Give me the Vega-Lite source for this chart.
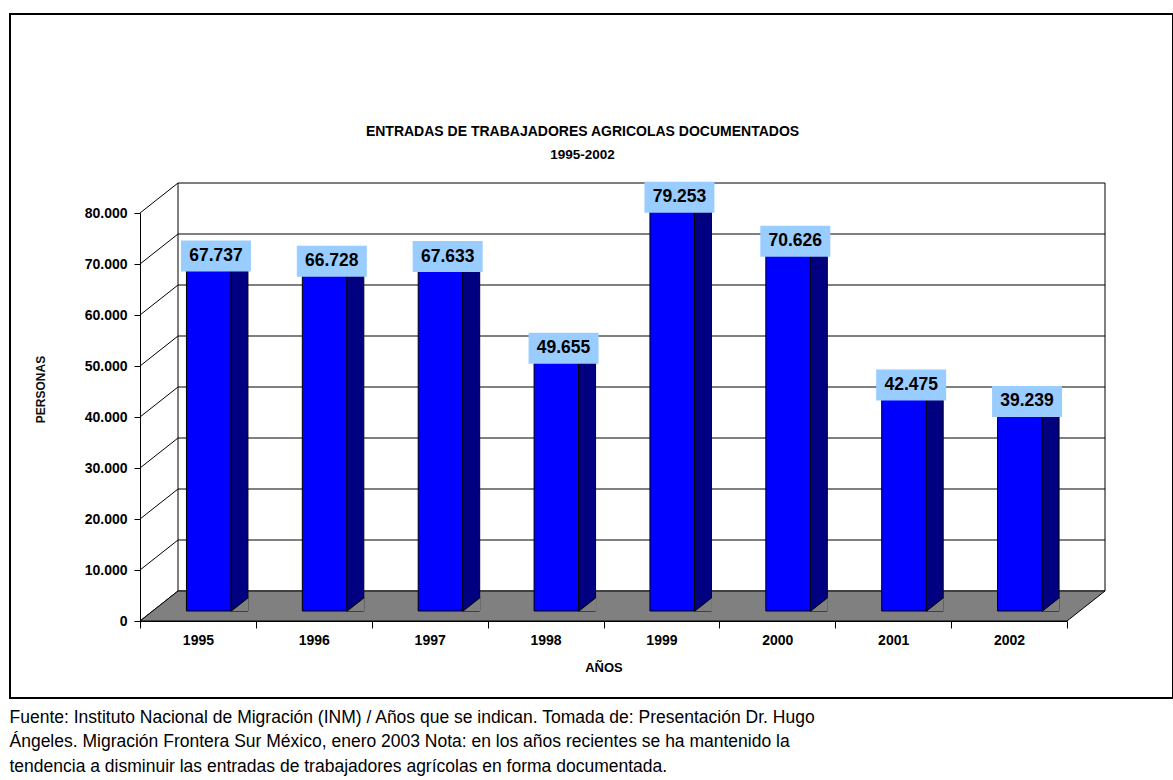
{
  "$schema": "https://vega.github.io/schema/vega-lite/v6.json",
  "width": 1163,
  "height": 684,
  "autosize": {"type": "none"},
  "padding": {"left": 10, "top": 14, "right": 0, "bottom": 82},
  "background": "white",
  "title": {
    "text": "ENTRADAS DE TRABAJADORES AGRICOLAS DOCUMENTADOS",
    "subtitle": "1995-2002",
    "anchor": "middle",
    "frame": "group",
    "dx": -9,
    "dy": 151,
    "font": "Liberation Sans",
    "fontSize": 14,
    "fontWeight": "bold",
    "color": "black",
    "subtitleFont": "Liberation Sans",
    "subtitleFontSize": 13.5,
    "subtitleFontWeight": "bold",
    "subtitleColor": "black",
    "subtitlePadding": 9
  },
  "datasets": {
    "bars": [
      {"year": "1995", "value": 67737},
      {"year": "1996", "value": 66728},
      {"year": "1997", "value": 67633},
      {"year": "1998", "value": 49655},
      {"year": "1999", "value": 79253},
      {"year": "2000", "value": 70626},
      {"year": "2001", "value": 42475},
      {"year": "2002", "value": 39239}
    ],
    "grid": [
      {"v": 0}, {"v": 10000}, {"v": 20000}, {"v": 30000}, {"v": 40000},
      {"v": 50000}, {"v": 60000}, {"v": 70000}, {"v": 80000}
    ],
    "edges": [{"p": 0}, {"p": 8}],
    "one": [{"k": 1}]
  },
  "resolve": {
    "scale": {"x": "independent"},
    "axis": {"x": "independent", "y": "independent"}
  },
  "layer": [
    {
      "data": {"name": "grid"},
      "mark": {"type": "rule", "color": "black", "strokeWidth": 1, "xOffset": 38, "x2Offset": 38, "yOffset": -30},
      "encoding": {
        "x": {"datum": 0, "type": "quantitative", "scale": {"domain": [0, 8], "range": [130, 1057], "nice": false, "zero": false}, "axis": null},
        "x2": {"datum": 8},
        "y": {
          "field": "v", "type": "quantitative",
          "scale": {"domain": [0, 80000], "range": [607, 199], "nice": false},
          "axis": {
            "orient": "left", "offset": -130,
            "values": [0, 10000, 20000, 30000, 40000, 50000, 60000, 70000, 80000],
            "format": ",d",
            "labelFont": "Liberation Sans", "labelFontSize": 14, "labelFontWeight": "bold", "labelColor": "black",
            "labelPadding": 7, "tickSize": 6, "tickColor": "black", "domainColor": "black", "grid": false,
            "title": "PERSONAS", "titleX": -100, "titleY": 375, "titleAngle": -90,
            "titleAlign": "center", "titleBaseline": "middle",
            "titleFont": "Liberation Sans", "titleFontSize": 12, "titleFontWeight": "bold", "titleColor": "#111111"
          }
        }
      }
    },
    {
      "data": {"name": "grid"},
      "mark": {"type": "rule", "color": "black", "strokeWidth": 1, "x2Offset": 38, "y2Offset": -30},
      "encoding": {
        "x": {"datum": 0, "type": "quantitative", "scale": {"domain": [0, 8], "range": [130, 1057], "nice": false, "zero": false}, "axis": null},
        "x2": {"datum": 0},
        "y": {"field": "v", "type": "quantitative", "axis": null},
        "y2": {"field": "v"}
      }
    },
    {
      "data": {"name": "edges"},
      "mark": {"type": "rule", "color": "black", "strokeWidth": 1, "xOffset": 38, "yOffset": -30, "y2Offset": -30},
      "encoding": {
        "x": {"field": "p", "type": "quantitative", "scale": {"domain": [0, 8], "range": [130, 1057], "nice": false, "zero": false}, "axis": null},
        "y": {"datum": 0, "type": "quantitative", "axis": null},
        "y2": {"datum": 80000}
      }
    },
    {
      "data": {"name": "one"},
      "mark": {"type": "point", "shape": "M0,0L1.854,0L1.93,-0.06L0.076,-0.06Z", "size": 1000000, "filled": true, "fill": "#808080", "stroke": "black", "strokeWidth": 1, "opacity": 1},
      "encoding": {
        "x": {"datum": 0, "type": "quantitative", "scale": {"domain": [0, 8], "range": [130, 1057], "nice": false, "zero": false}, "axis": null},
        "y": {"datum": 0, "type": "quantitative", "axis": null}
      }
    },
    {
      "data": {"name": "bars"},
      "mark": {"type": "bar", "width": 45, "xOffset": 11, "yOffset": -10, "y2Offset": -10, "color": "#0000FF", "stroke": "black", "strokeWidth": 1},
      "encoding": {
        "x": {
          "field": "year", "type": "ordinal",
          "scale": {"range": [130, 1057], "paddingInner": 0, "paddingOuter": 0},
          "axis": {
            "orient": "bottom", "offset": -77, "tickBand": "extent", "labelAngle": 0,
            "labelFont": "Liberation Sans", "labelFontSize": 14, "labelFontWeight": "bold", "labelColor": "black",
            "labelPadding": 5, "tickSize": 7, "tickColor": "black", "domainColor": "black", "grid": false,
            "title": "AÑOS", "titleFont": "Liberation Sans", "titleFontSize": 13, "titleFontWeight": "bold",
            "titleColor": "black", "titlePadding": 14
          }
        },
        "y": {"field": "value", "type": "quantitative", "axis": null},
        "y2": {"datum": 0}
      }
    },
    {
      "data": {"name": "bars"},
      "mark": {"type": "bar", "width": 17, "xOffset": 41.5, "yOffset": -10, "y2Offset": -10, "color": "#000080", "stroke": "black", "strokeWidth": 1},
      "encoding": {
        "x": {"field": "year", "type": "ordinal", "scale": {"range": [130, 1057], "paddingInner": 0, "paddingOuter": 0}, "axis": null},
        "y": {"field": "value", "type": "quantitative", "axis": null},
        "y2": {"datum": 0}
      }
    },
    {
      "data": {"name": "bars"},
      "mark": {"type": "point", "shape": "M0,0L1,0L1,-0.79Z", "size": 1156, "filled": true, "fill": "#808080", "strokeWidth": 0, "opacity": 1, "xOffset": 33.5, "yOffset": -10},
      "encoding": {
        "x": {"field": "year", "type": "ordinal", "scale": {"range": [130, 1057], "paddingInner": 0, "paddingOuter": 0}, "axis": null},
        "y": {"datum": 0, "type": "quantitative", "axis": null}
      }
    },
    {
      "data": {"name": "bars"},
      "mark": {"type": "point", "shape": "M0,0L1,-0.79", "size": 1156, "filled": false, "stroke": "black", "strokeWidth": 1, "opacity": 1, "xOffset": 33.5, "yOffset": -10},
      "encoding": {
        "x": {"field": "year", "type": "ordinal", "scale": {"range": [130, 1057], "paddingInner": 0, "paddingOuter": 0}, "axis": null},
        "y": {"datum": 0, "type": "quantitative", "axis": null}
      }
    },
    {
      "data": {"name": "bars"},
      "mark": {"type": "bar", "width": 70, "xOffset": 18, "yOffset": -35, "y2Offset": -4, "color": "#99CCFF"},
      "encoding": {
        "x": {"field": "year", "type": "ordinal", "scale": {"range": [130, 1057], "paddingInner": 0, "paddingOuter": 0}, "axis": null},
        "y": {"field": "value", "type": "quantitative", "axis": null},
        "y2": {"field": "value"}
      }
    },
    {
      "data": {"name": "bars"},
      "mark": {"type": "text", "font": "Liberation Sans", "fontSize": 17.5, "fontWeight": "bold", "color": "black", "align": "center", "baseline": "middle", "xOffset": 18, "yOffset": -19.5},
      "encoding": {
        "x": {
          "field": "year", "type": "ordinal",
          "scale": {"range": [130, 1057], "paddingInner": 0, "paddingOuter": 0},
          "axis": {
            "orient": "top", "domain": false, "ticks": false, "labels": false, "grid": false,
            "title": [
              "Fuente: Instituto Nacional de Migración (INM) / Años que se indican. Tomada de: Presentación Dr. Hugo",
              "Ángeles. Migración Frontera Sur México, enero 2003 Nota: en los años recientes se ha mantenido la",
              "tendencia a disminuir las entradas de trabajadores agrícolas en forma documentada."
            ],
            "titleX": -1, "titleY": 694, "titleAlign": "left", "titleBaseline": "top", "titleAngle": 0,
            "titleFont": "Liberation Sans", "titleFontSize": 17.5, "titleFontWeight": "normal",
            "titleLineHeight": 24.5, "titleColor": "black", "titleLimit": 2000
          }
        },
        "y": {"field": "value", "type": "quantitative", "axis": null},
        "text": {"field": "value", "type": "quantitative", "format": ",d"}
      }
    }
  ],
  "config": {
    "font": "Liberation Sans",
    "locale": {"number": {"decimal": ",", "thousands": ".", "grouping": [3], "currency": ["$", ""]}},
    "view": {"stroke": "black", "strokeWidth": 2}
  }
}
